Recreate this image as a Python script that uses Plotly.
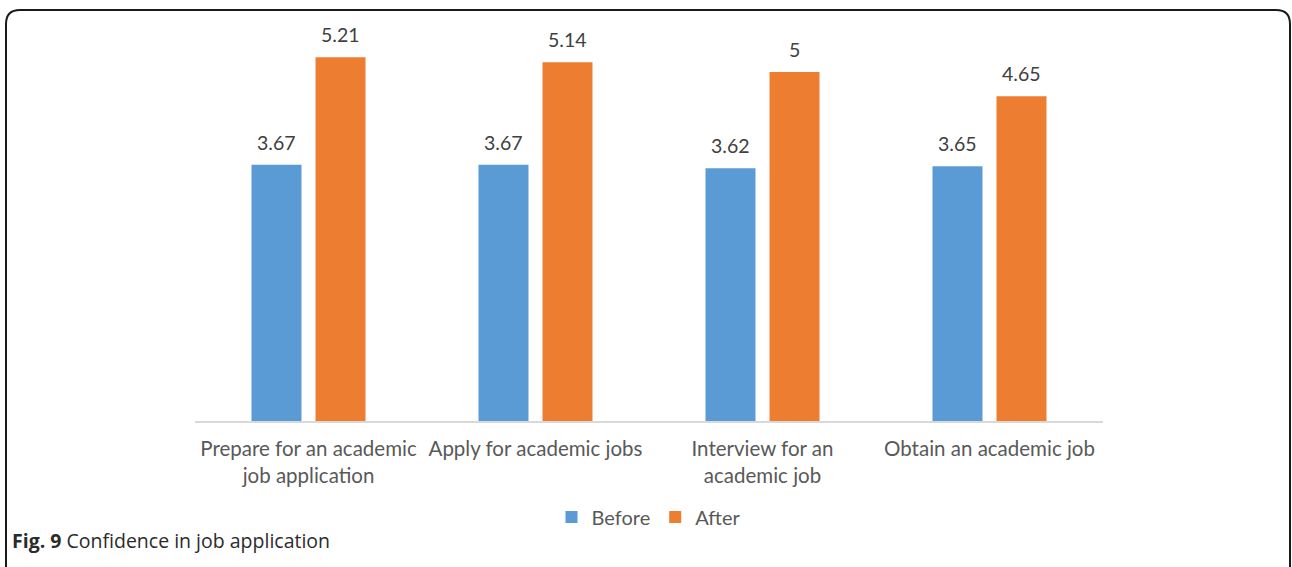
import plotly.graph_objects as go

categories = ["Prepare for an academic<br>job application", "Apply for academic jobs",
              "Interview for an<br>academic job", "Obtain an academic job"]
before = [3.67, 3.67, 3.62, 3.65]
after = [5.21, 5.14, 5.00, 4.65]
before_labels = ["3.67", "3.67", "3.62", "3.65"]
after_labels = ["5.21", "5.14", "5", "4.65"]

W, H = 1292, 567
L, R, T, B = 195, 189, 37, 146
PW, PH = W - L - R, H - T - B

def px(x):
    return (x - L) / PW

def py(y):
    return (H - B - y) / PH

BLUE = "#5B9BD5"
ORANGE = "#ED7D31"
FONT = "Lato, Carlito, sans-serif"

fig = go.Figure()
fig.add_trace(go.Bar(name="Before", x=categories, y=before, marker_color=BLUE,
                     marker_line_width=0))
fig.add_trace(go.Bar(name="After", x=categories, y=after, marker_color=ORANGE,
                     marker_line_width=0))

annotations = []
for cat, v, t in zip(categories, before, before_labels):
    annotations.append(dict(x=cat, y=v, xref="x", yref="y", text=t, showarrow=False,
                            xshift=-32, yshift=9, yanchor="bottom",
                            font=dict(family=FONT, size=19.5, color="#404040")))
for cat, v, t in zip(categories, after, after_labels):
    annotations.append(dict(x=cat, y=v, xref="x", yref="y", text=t, showarrow=False,
                            xshift=32, yshift=9, yanchor="bottom",
                            font=dict(family=FONT, size=19.5, color="#404040")))

annotations.append(dict(x=px(10), y=py(540), xref="paper", yref="paper",
                        xanchor="left", yanchor="middle", showarrow=False,
                        text="<b>Fig. 9</b> Confidence in job application",
                        font=dict(family="Open Sans, sans-serif", size=19.5, color="#2b2b2b")))

# rounded border (open at the bottom)
r = 14
x0, x1, y0, yb = 6, 1290, 10, 580
path = (f"M {px(x0)},{py(yb)} L {px(x0)},{py(y0 + r)} "
        f"Q {px(x0)},{py(y0)} {px(x0 + r)},{py(y0)} "
        f"L {px(x1 - r)},{py(y0)} "
        f"Q {px(x1)},{py(y0)} {px(x1)},{py(y0 + r)} "
        f"L {px(x1)},{py(yb)}")

fig.update_layout(
    width=W, height=H,
    margin=dict(l=L, r=R, t=T, b=B),
    paper_bgcolor="white", plot_bgcolor="white",
    barmode="group", bargap=0.436, bargroupgap=0.219,
    showlegend=True,
    legend=dict(orientation="h", x=0.5, xanchor="center", y=py(517), yanchor="middle",
                font=dict(family=FONT, size=20, color="#595959"),
                itemwidth=30, tracegroupgap=0),
    annotations=annotations,
    shapes=[dict(type="path", path=path, xref="paper", yref="paper",
                 line=dict(color="#1a1a1a", width=2))],
    font=dict(family=FONT),
)
fig.update_xaxes(showline=True, linecolor="#d9d9d9", linewidth=1.5, showgrid=False,
                 ticks="", ticklabelstandoff=9,
                 tickfont=dict(family=FONT, size=20.5, color="#595959"))
fig.update_yaxes(range=[0, 5.5], visible=False, showgrid=False)

fig.write_html("out.html")
